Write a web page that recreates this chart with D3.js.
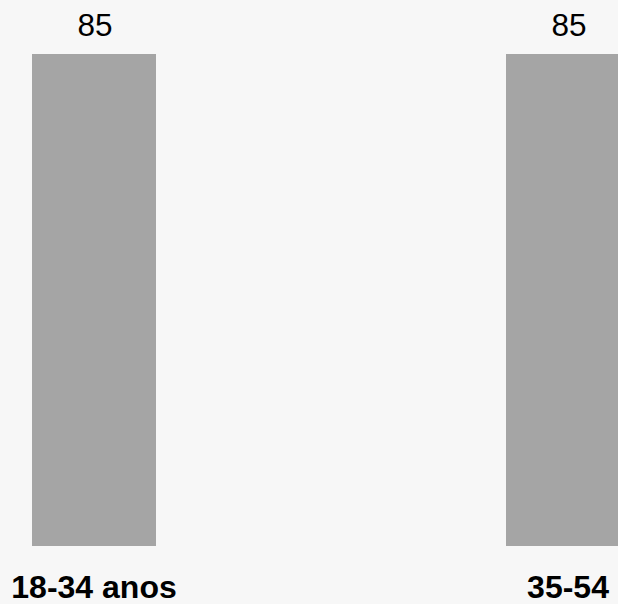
<!DOCTYPE html>
<html><head><meta charset="utf-8">
<script src="https://cdn.jsdelivr.net/npm/d3@7"></script>
<style>
html,body{margin:0;padding:0;background:#f7f7f7;overflow:hidden;}
svg{display:block;}
</style></head>
<body>
<svg id="c" width="618" height="604"></svg>
<script>
const categories = ["18-34 anos", "35-54 anos"];
const values = [85, 85];
const tickLabels = ["18-34 anos", "35-54"];

const svg = d3.select("#c");
svg.append("rect").attr("width",618).attr("height",604).attr("fill","#f7f7f7");

const x = d3.scaleBand().domain(categories).range([32, 630]).paddingInner(350/474).paddingOuter(0);
const y = d3.scaleLinear().domain([0, 85]).range([546, 54]);

svg.selectAll("rect.bar").data(categories).join("rect")
  .attr("class","bar")
  .attr("x", d => x(d))
  .attr("width", x.bandwidth())
  .attr("y", (d,i) => y(values[i]))
  .attr("height", (d,i) => y(0) - y(values[i]))
  .attr("fill", "#a5a5a5");

svg.selectAll("text.val").data(categories).join("text")
  .attr("class","val")
  .attr("x", d => x(d) + x.bandwidth()/2 + 1)
  .attr("y", (d,i) => y(values[i]) - 18)
  .attr("text-anchor","middle")
  .attr("font-family","Liberation Sans, Arial, sans-serif")
  .attr("font-size", 31.5)
  .attr("fill","#000")
  .text((d,i) => values[i]);

const axis = d3.axisBottom(x).tickSize(0).tickFormat("");
const g = svg.append("g").attr("transform","translate(0,546)").call(axis);
g.select(".domain").remove();
g.selectAll(".tick").append("text")
  .attr("text-anchor","middle")
  .attr("font-family","Liberation Sans, Arial, sans-serif")
  .attr("font-size", 32)
  .attr("font-weight","bold")
  .attr("fill","#000")
  .attr("y", 52)
  .text((d,i) => tickLabels[i]);
</script>
</body></html>
